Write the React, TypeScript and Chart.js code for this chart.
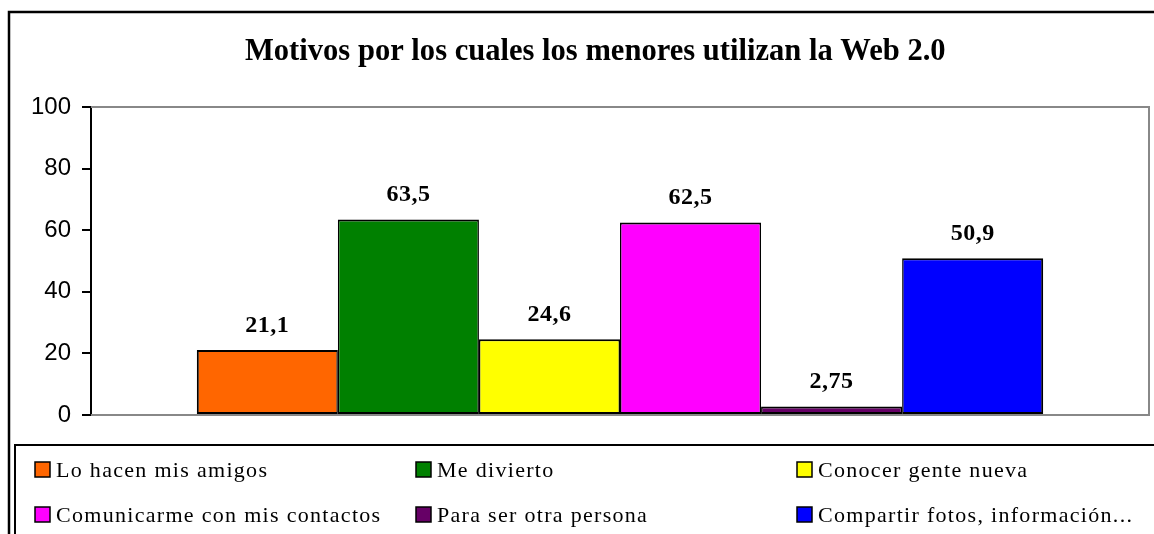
import React, { useEffect, useRef } from "react";
import { Chart, registerables } from "chart.js";

Chart.register(...registerables);

const titleText = "Motivos por los cuales los menores utilizan la Web 2.0";
const categories = [
  "Lo hacen mis amigos",
  "Me divierto",
  "Conocer gente nueva",
  "Comunicarme con mis contactos",
  "Para ser otra persona",
  "Compartir fotos, información...",
];
const values = [21.1, 63.5, 24.6, 62.5, 2.75, 50.9];
const colors = ["#FF6600", "#008000", "#FFFF00", "#FF00FF", "#660066", "#0000FF"];
const yTickValues = [0, 20, 40, 60, 80, 100];

const formatValue = (v: number) => String(v).replace(".", ",");

const framePlugin = {
  id: "frame",
  beforeDatasetsDraw(chart: any) {
    const { ctx, chartArea } = chart;
    const { left, right, top, bottom } = chartArea;
    ctx.save();
    ctx.strokeStyle = "#888888";
    ctx.lineWidth = 2;
    ctx.beginPath();
    ctx.moveTo(left, top);
    ctx.lineTo(right, top);
    ctx.lineTo(right, bottom);
    ctx.lineTo(left, bottom);
    ctx.stroke();
    ctx.restore();
  },
  afterDraw(chart: any) {
    const { ctx, width, height } = chart;
    ctx.save();
    ctx.strokeStyle = "#000";
    ctx.lineWidth = 2.5;
    ctx.beginPath();
    ctx.moveTo(9, height + 2);
    ctx.lineTo(9, 12);
    ctx.lineTo(width + 2, 12);
    ctx.stroke();
    ctx.lineWidth = 2;
    ctx.beginPath();
    ctx.moveTo(15, height + 2);
    ctx.lineTo(15, 445);
    ctx.lineTo(width + 2, 445);
    ctx.stroke();

    // title (slightly condensed, tall glyphs like the reference)
    ctx.fillStyle = "#000";
    ctx.font = "bold 32px 'Liberation Serif'";
    ctx.textAlign = "left";
    ctx.textBaseline = "alphabetic";
    ctx.save();
    ctx.translate(245, 60);
    ctx.scale(0.955, 1);
    ctx.fillText(titleText, 0, 0);
    ctx.restore();

    // legend
    ctx.font = "22px 'Liberation Serif'";
    (ctx as any).letterSpacing = "1.3px";
    chart.data.datasets.forEach((ds: any, i: number) => {
      const col = i % 3;
      const row = Math.floor(i / 3);
      const x = 35 + col * 381;
      const baseY = 477 + row * 45;
      ctx.fillStyle = ds.backgroundColor;
      ctx.fillRect(x, baseY - 15, 15, 15);
      ctx.strokeStyle = "#000";
      ctx.lineWidth = 1.5;
      ctx.strokeRect(x, baseY - 15, 15, 15);
      ctx.fillStyle = "#000";
      ctx.fillText(ds.label, x + 21, baseY);
    });
    ctx.restore();
  },
  afterDatasetsDraw(chart: any) {
    const { ctx } = chart;
    ctx.save();
    ctx.fillStyle = "#000";
    ctx.font = "bold 24px 'Liberation Serif'";
    (ctx as any).letterSpacing = "0.5px";
    ctx.textAlign = "center";
    ctx.textBaseline = "alphabetic";
    chart.data.datasets.forEach((ds: any, i: number) => {
      const meta = chart.getDatasetMeta(i);
      const bar = meta.data[0];
      if (!bar) return;
      ctx.fillText(formatValue(ds.data[0]), bar.x, bar.y - 18.5);
    });
    ctx.restore();
  },
};

export default function App() {
  const ref = useRef<HTMLCanvasElement>(null);
  useEffect(() => {
    const canvas = ref.current!;
    const chart = new Chart(canvas, {
      type: "bar",
      data: {
        labels: [""],
        datasets: categories.map((name, i) => ({
          label: name,
          data: [values[i]],
          backgroundColor: colors[i],
          borderColor: "#000",
          borderWidth: {
            top: 2,
            bottom: 2,
            left: i === 0 ? 2 : 1.5,
            right: i === categories.length - 1 ? 2 : 1.5,
          },
          borderSkipped: false,
          categoryPercentage: 0.8,
          barPercentage: 1.0,
        })),
      },
      options: {
        responsive: false,
        animation: false,
        events: [],
        layout: { padding: { left: 0, right: 5, top: 107, bottom: 119 } },
        plugins: {
          legend: { display: false },
          title: { display: false },
          tooltip: { enabled: false },
        },
        scales: {
          x: { display: false },
          y: {
            min: 0,
            max: 100,
            afterFit: (scale: any) => {
              scale.width = 91;
            },
            afterBuildTicks: (scale: any) => {
              scale.ticks = yTickValues.map((v) => ({ value: v }));
            },
            ticks: {
              color: "#000",
              padding: 11,
              font: { family: "'Liberation Sans'", size: 24 },
            },
            grid: {
              display: true,
              drawOnChartArea: false,
              drawTicks: true,
              tickLength: 9,
              color: "#000",
              lineWidth: 2,
            },
            border: { display: true, color: "#000", width: 2 },
          },
        },
      },
      plugins: [framePlugin],
    });
    return () => chart.destroy();
  }, []);
  return (
    <div style={{ position: "fixed", left: 0, top: 0, width: 1154, height: 534, background: "#fff" }}>
      <canvas ref={ref} width={1154} height={534} style={{ width: 1154, height: 534, display: "block" }} />
    </div>
  );
}
